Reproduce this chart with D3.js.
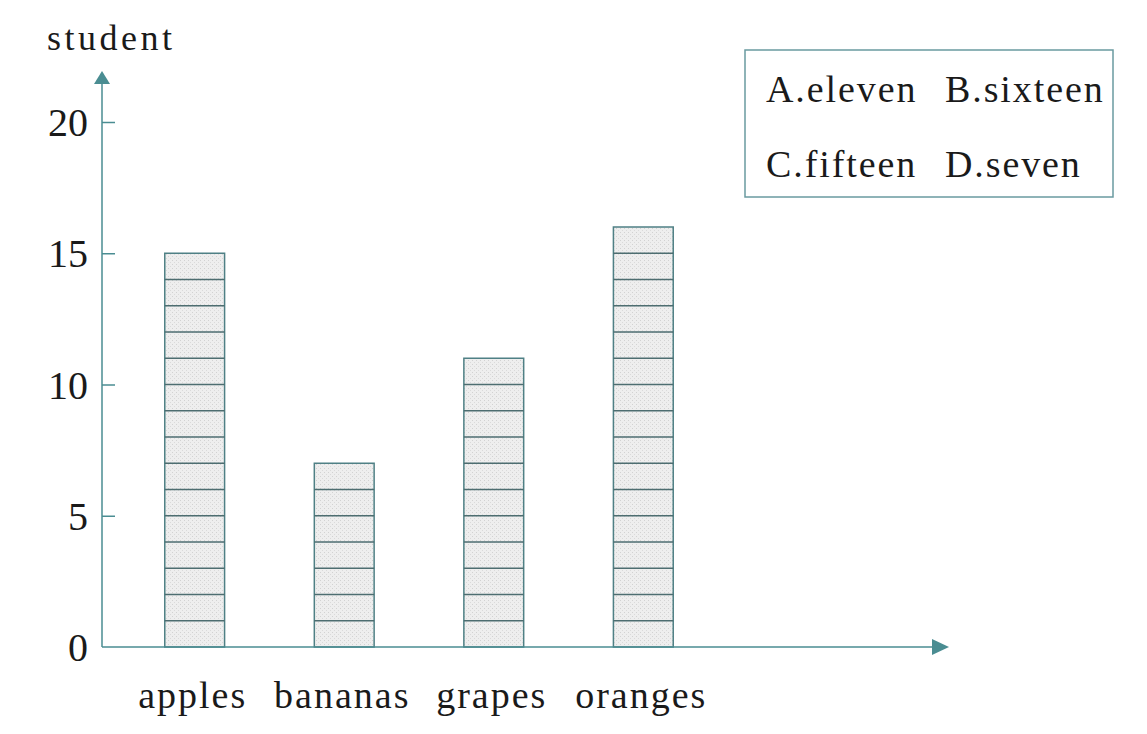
<!DOCTYPE html>
<html>
<head>
<meta charset="utf-8">
<script src="https://cdn.jsdelivr.net/npm/d3@7"></script>
<style>
  body { margin: 0; background: #ffffff; }
  text { font-family: "Liberation Serif", "DejaVu Serif", serif; fill: #1a1a1a; }
</style>
</head>
<body>
<div id="chart"></div>
<script>
// data
var fruits = ["apples", "bananas", "grapes", "oranges"];
var students = [15, 7, 11, 16];
var yTicks = [0, 5, 10, 15, 20];
var choicesRow1 = ["A.eleven", "B.sixteen"];
var choicesRow2 = ["C.fifteen", "D.seven"];

var W = 1147, H = 734;
var axisColor = "#4a8d92";
var barStroke = "#4f8085";

var svg = d3.select("#chart")
    .append("svg")
    .attr("width", W)
    .attr("height", H);

// scales
var x = d3.scaleBand()
    .domain(fruits)
    .range([90, 748])
    .paddingInner(0.6)
    .paddingOuter(0.5);

var y = d3.scaleLinear()
    .domain([0, 20])
    .range([647, 122]);

var x0 = 102;

// stipple pattern for bars
var defs = svg.append("defs");
var pat = defs.append("pattern")
    .attr("id", "stipple")
    .attr("width", 4)
    .attr("height", 4)
    .attr("patternUnits", "userSpaceOnUse");
pat.append("rect").attr("width", 4).attr("height", 4).attr("fill", "#eeeeee");
pat.append("rect").attr("x", 0).attr("y", 0).attr("width", 1).attr("height", 1).attr("fill", "#d2d2d2");
pat.append("rect").attr("x", 2).attr("y", 2).attr("width", 1).attr("height", 1).attr("fill", "#dadada");

// bars, one cell per student
var bars = svg.selectAll("g.bar")
    .data(fruits.map(function(f, i) { return { fruit: f, value: students[i] }; }))
    .enter()
    .append("g")
    .attr("class", "bar");

bars.append("rect")
    .attr("x", function(d) { return x(d.fruit); })
    .attr("y", function(d) { return y(d.value); })
    .attr("width", x.bandwidth())
    .attr("height", function(d) { return y(0) - y(d.value); })
    .attr("fill", "url(#stipple)")
    .attr("stroke", barStroke)
    .attr("stroke-width", 1.5);

bars.selectAll("line.cell")
    .data(function(d) {
        return d3.range(1, d.value).map(function(k) { return { fruit: d.fruit, k: k }; });
    })
    .enter()
    .append("line")
    .attr("class", "cell")
    .attr("x1", function(d) { return x(d.fruit); })
    .attr("x2", function(d) { return x(d.fruit) + x.bandwidth(); })
    .attr("y1", function(d) { return y(d.k); })
    .attr("y2", function(d) { return y(d.k); })
    .attr("stroke", "#4d6d70")
    .attr("stroke-width", 1.5);

// y axis
var yAxis = d3.axisRight(y)
    .tickValues(yTicks.filter(function(t) { return t > 0; }))
    .tickSize(13)
    .tickFormat("");
var gy = svg.append("g")
    .attr("transform", "translate(" + x0 + ",0)")
    .call(yAxis);
gy.select(".domain").remove();
gy.selectAll(".tick line").attr("stroke", axisColor).attr("stroke-width", 1.5);

svg.append("line")
    .attr("x1", x0).attr("x2", x0)
    .attr("y1", y(0)).attr("y2", 82)
    .attr("stroke", axisColor)
    .attr("stroke-width", 1.5);
svg.append("path")
    .attr("d", "M" + x0 + ",71 L" + (x0 - 8) + ",84 L" + (x0 + 8) + ",84 Z")
    .attr("fill", axisColor);

svg.selectAll("text.ytick")
    .data(yTicks)
    .enter()
    .append("text")
    .attr("class", "ytick")
    .attr("x", 88)
    .attr("y", function(d) { return y(d); })
    .attr("dy", "0.35em")
    .attr("text-anchor", "end")
    .style("font-size", "40px")
    .text(function(d) { return d; });

// x axis
svg.append("line")
    .attr("x1", x0).attr("x2", 934)
    .attr("y1", y(0)).attr("y2", y(0))
    .attr("stroke", axisColor)
    .attr("stroke-width", 1.5);
svg.append("path")
    .attr("d", "M949," + y(0) + " L932," + (y(0) - 8) + " L932," + (y(0) + 8) + " Z")
    .attr("fill", axisColor);

svg.selectAll("text.xlabel")
    .data(fruits)
    .enter()
    .append("text")
    .attr("class", "xlabel")
    .attr("x", function(d) { return x(d) + x.bandwidth() / 2 - 2; })
    .attr("y", 708)
    .attr("text-anchor", "middle")
    .style("font-size", "38px")
    .style("letter-spacing", "2px")
    .text(function(d) { return d; });

// axis title
svg.append("text")
    .attr("x", 47)
    .attr("y", 50)
    .style("font-size", "36px")
    .style("letter-spacing", "3.5px")
    .text("student");

// answer box
svg.append("rect")
    .attr("x", 745).attr("y", 50)
    .attr("width", 368).attr("height", 147)
    .attr("fill", "none")
    .attr("stroke", "#6a9aa0")
    .attr("stroke-width", 1.5);

[choicesRow1, choicesRow2].forEach(function(row, r) {
    svg.selectAll("text.opt" + r)
        .data(row)
        .enter()
        .append("text")
        .attr("class", "opt" + r)
        .attr("x", function(d, i) { return i === 0 ? 766 : 945; })
        .attr("y", r === 0 ? 102 : 177)
        .style("font-size", "38px")
        .style("letter-spacing", "1.9px")
        .text(function(d) { return d; });
});
</script>
</body>
</html>
